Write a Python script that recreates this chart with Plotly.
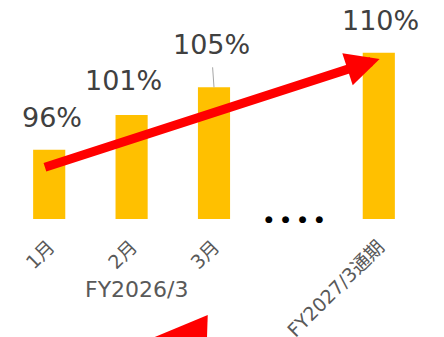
import plotly.graph_objects as go

categories = ["1月", "2月", "3月", "", "FY2027/3通期"]
values = [96, 101, 105, None, 110]
labels = ["96%", "101%", "105%", "", "110%"]

# label placement offsets (px) : (xshift, yshift)
label_offsets = [(3, 32), (-8, 35), (None, None), None, (2, 32)]

FONT = "DejaVu Sans, Noto Sans CJK JP, sans-serif"

fig = go.Figure()
fig.add_trace(go.Bar(
    x=list(range(len(categories))), y=values,
    marker=dict(color="#FFC000", line=dict(width=0)),
    width=0.39,
))

ann = []
for i, (v, lab) in enumerate(zip(values, labels)):
    if v is None:
        continue
    if i == 2:
        ann.append(dict(x=i, y=v, xref="x", yref="y", text=lab, showarrow=True,
                        arrowhead=0, arrowwidth=1, arrowcolor="#A6A6A6",
                        ax=-3, ay=-43, startstandoff=6,
                        font=dict(size=27, color="#404040", family=FONT)))
    else:
        xs, ys = label_offsets[i]
        ann.append(dict(x=i, y=v, xref="x", yref="y", text=lab, showarrow=False,
                        xshift=xs, yshift=ys,
                        font=dict(size=27, color="#404040", family=FONT)))

# main red trend arrow
ann.append(dict(x=4.01, y=109.1, xref="x", yref="y", ax=-0.07, ay=93.4,
                axref="x", ayref="y", text="", showarrow=True,
                arrowhead=2, arrowsize=0.75, arrowwidth=9, arrowcolor="#FF0000"))
# ellipsis dots
ann.append(dict(x=3, y=86, xref="x", yref="y", text="●\u2003●\u2003●\u2003●",
                showarrow=False, xshift=-2,
                font=dict(size=9, color="#000000", family=FONT)))
# group label
ann.append(dict(x=1.07, y=-0.324, xref="x", yref="paper", text="FY2026/3",
                showarrow=False, yanchor="middle",
                font=dict(size=22, color="#595959", family=FONT)))

# fragment of a second red arrow head cut by the bottom edge (decoration)
shapes = [dict(type="path", xref="paper", yref="paper",
               path="M 0.4848,-0.4384 L 0.3418,-0.5502 L 0.4824,-0.5753 Z",
               fillcolor="#FF0000", line=dict(width=0))]

fig.update_layout(
    width=444, height=337,
    margin=dict(l=8, r=24, t=0, b=118),
    paper_bgcolor="white", plot_bgcolor="white",
    showlegend=False,
    annotations=ann,
    shapes=shapes,
    xaxis=dict(
        range=[-0.5, 4.5], tickmode="array",
        tickvals=list(range(len(categories))), ticktext=categories,
        tickangle=-45, showgrid=False, showline=False, zeroline=False,
        ticks="", automargin=False, ticklabelstandoff=12,
        tickfont=dict(size=19, color="#595959", family=FONT),
    ),
    yaxis=dict(range=[86, 117.6], visible=False, showgrid=False),
)

fig.write_html("out.html")
